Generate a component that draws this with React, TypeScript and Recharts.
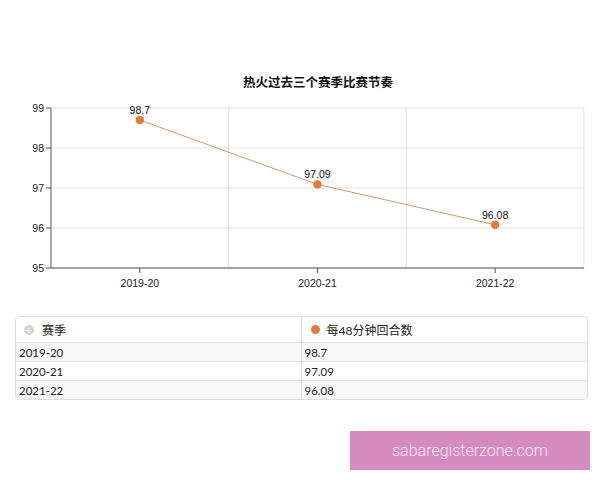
import { LineChart, Line, XAxis, YAxis, CartesianGrid, LabelList } from 'recharts';

const seasons = ['2019-20', '2020-21', '2021-22'];
const possessions = [98.7, 97.09, 96.08];
const yTicks = [95, 96, 97, 98, 99];

const title = '热火过去三个赛季比赛节奏';
const seasonHeader = '赛季';
const seriesName = '每48分钟回合数';

const data = seasons.map((season, i) => ({ season, value: possessions[i] }));

const ORANGE = '#e07b39';
const tickStyle = { fontSize: 10.5, fill: '#222', fontFamily: '"Liberation Sans", Arial, sans-serif' };

export default function App() {
  const cell = {
    borderRight: '1px solid #ddd',
    borderTop: '1px solid #ddd',
    padding: '0 3px',
    height: 18,
    fontSize: 11.5,
    color: '#222',
  } as const;

  return (
    <div style={{ position: 'absolute', left: 0, top: 0, width: 600, height: 480, background: '#fff' }}>
      <div
        style={{
          position: 'absolute',
          top: 72,
          left: 218,
          width: 200,
          textAlign: 'center',
          fontFamily: '"Noto Sans CJK SC", sans-serif',
          fontWeight: 'bold',
          fontSize: 12.5,
          color: '#111',
        }}
      >
        {title}
      </div>

      <div style={{ position: 'absolute', left: 0, top: 0 }}>
        <LineChart width={600} height={300} data={data} margin={{ top: 108, right: 16, bottom: 12, left: 21 }}>
          <CartesianGrid
            stroke="#e2e2e2"
            verticalCoordinatesGenerator={({ offset }: any) =>
              [1, 2, 3].map((i) => offset.left + (i * offset.width) / seasons.length)
            }
          />
          <XAxis
            dataKey="season"
            scale="band"
            tick={tickStyle}
            stroke="#555"
            tickSize={5}
            tickMargin={7}
            height={20}
          />
          <YAxis
            domain={[95, 99]}
            ticks={yTicks}
            tick={tickStyle}
            stroke="#555"
            tickSize={5}
            width={30}
          />
          <Line
            dataKey="value"
            stroke="#d8956a"
            strokeWidth={1}
            dot={{ r: 3.8, fill: ORANGE, stroke: ORANGE, strokeWidth: 1 }}
            isAnimationActive={false}
          >
            <LabelList dataKey="value" position="top" offset={6} style={{ ...tickStyle, fill: '#111' }} />
          </Line>
        </LineChart>
      </div>

      <div
        style={{
          position: 'absolute',
          left: 15,
          top: 316,
          width: 571,
          border: '1px solid #ddd',
          borderRadius: 4,
          overflow: 'hidden',
          fontFamily: 'Lato, "Noto Sans CJK SC", sans-serif',
        }}
      >
        <table style={{ width: '100%', borderCollapse: 'collapse', tableLayout: 'fixed' }}>
          <colgroup>
            <col style={{ width: 285 }} />
            <col />
          </colgroup>
          <thead>
            <tr style={{ height: 25 }}>
              <th style={{ ...cell, borderTop: 'none', height: 25, textAlign: 'left', fontWeight: 'normal', fontSize: 12, paddingLeft: 8 }}>
                <span
                  style={{
                    display: 'inline-block',
                    width: 10,
                    height: 10,
                    borderRadius: '50%',
                    background: '#d4d4d4',
                    color: '#fff',
                    fontSize: 10,
                    lineHeight: '10px',
                    textAlign: 'center',
                    marginRight: 8,
                    verticalAlign: 'middle',
                  }}
                >
                  +
                </span>
                <span style={{ verticalAlign: 'middle' }}>{seasonHeader}</span>
              </th>
              <th style={{ ...cell, borderTop: 'none', borderRight: 'none', height: 25, textAlign: 'left', fontWeight: 'normal', fontSize: 12, paddingLeft: 9 }}>
                <span
                  style={{
                    display: 'inline-block',
                    width: 9,
                    height: 9,
                    borderRadius: '50%',
                    background: ORANGE,
                    marginRight: 7,
                    verticalAlign: 'middle',
                  }}
                />
                <span style={{ verticalAlign: 'middle' }}>{seriesName}</span>
              </th>
            </tr>
          </thead>
          <tbody>
            {data.map((row, i) => (
              <tr key={row.season} style={{ background: i % 2 === 0 ? '#f8f8f8' : '#fff' }}>
                <td style={cell}>{row.season}</td>
                <td style={{ ...cell, borderRight: 'none' }}>{row.value}</td>
              </tr>
            ))}
          </tbody>
        </table>
      </div>

      <div
        style={{
          position: 'absolute',
          left: 350,
          top: 431,
          width: 240,
          height: 39,
          background: '#d58bc0',
          color: '#f7e8f2',
          fontFamily: 'Roboto, sans-serif',
          fontWeight: 300,
          fontSize: 16,
          lineHeight: '39px',
          textAlign: 'center',
        }}
      >
        sabaregisterzone.com
      </div>
    </div>
  );
}
